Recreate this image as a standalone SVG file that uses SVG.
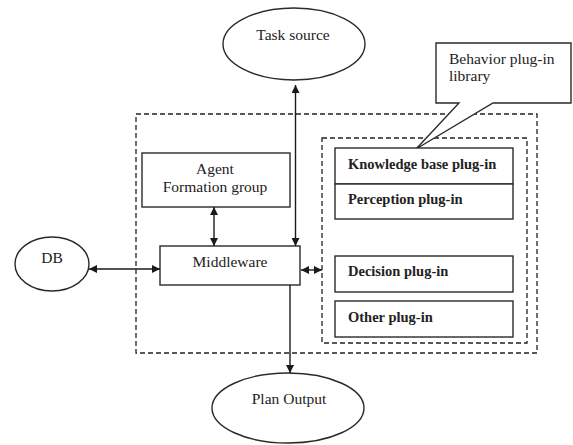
<svg xmlns="http://www.w3.org/2000/svg" width="573" height="445" viewBox="0 0 573 445">
<style>
.s{fill:#fff;stroke:#2a2a2a;stroke-width:1.4}
.d{fill:none;stroke:#222;stroke-width:1.3;stroke-dasharray:5 3}
.t{font-family:"Liberation Serif",serif;font-size:15.5px;fill:#222}
.b{font-family:"Liberation Serif",serif;font-size:14.5px;font-weight:bold;fill:#222}
.c{stroke:#1a1a1a;stroke-width:1.4;fill:none}
</style>
<defs>
<marker id="a" viewBox="0 0 10 10" refX="10" refY="5" markerWidth="8" markerHeight="8" orient="auto-start-reverse" markerUnits="userSpaceOnUse">
<path d="M0,0L10,5L0,10z" fill="#1a1a1a"/>
</marker>
</defs>
<rect width="573" height="445" fill="#fff"/>
<rect class="d" x="136" y="114" width="401" height="239"/>
<rect class="d" x="322" y="138" width="205" height="205"/>
<g id="task"><ellipse class="s" cx="294" cy="44" rx="71" ry="36"/><text class="t" x="293" y="40" text-anchor="middle">Task source</text></g>
<g id="callout"><path class="s" d="M436,43H571V103H493L416,149L459,103H436Z"/><text class="t" x="449" y="64">Behavior plug-in</text><text class="t" x="449" y="81">library</text></g>
<g id="agent"><rect class="s" x="142" y="153" width="148" height="54"/><text class="t" x="215" y="174" text-anchor="middle">Agent</text><text class="t" x="215" y="192" text-anchor="middle">Formation group</text></g>
<g id="middleware"><rect class="s" x="160" y="246" width="140" height="39"/><text class="t" x="230" y="267" text-anchor="middle">Middleware</text></g>
<g id="db"><ellipse class="s" cx="52" cy="264" rx="37" ry="27"/><text class="t" x="52" y="263" text-anchor="middle">DB</text></g>
<g id="plan"><ellipse class="s" cx="288" cy="408" rx="76" ry="35"/><text class="t" x="289" y="404" text-anchor="middle">Plan Output</text></g>
<g id="knowledge"><rect class="s" x="335" y="148" width="178" height="36"/><text class="b" x="348" y="169">Knowledge base plug-in</text></g>
<g id="perception"><rect class="s" x="335" y="184" width="178" height="35"/><text class="b" x="348" y="204">Perception plug-in</text></g>
<g id="decision"><rect class="s" x="335" y="256" width="178" height="36"/><text class="b" x="348" y="276">Decision plug-in</text></g>
<g id="other"><rect class="s" x="335" y="301" width="178" height="36"/><text class="b" x="348" y="322">Other plug-in</text></g>
<g id="connectors">
<line class="c" x1="295.5" y1="85" x2="295.5" y2="246" marker-start="url(#a)" marker-end="url(#a)"/>
<line class="c" x1="214" y1="207" x2="214" y2="246" marker-start="url(#a)" marker-end="url(#a)"/>
<line class="c" x1="89" y1="269" x2="160" y2="269" marker-start="url(#a)" marker-end="url(#a)"/>
<line class="c" x1="301" y1="270" x2="322" y2="270" marker-start="url(#a)" marker-end="url(#a)"/>
<line class="c" x1="290" y1="285" x2="290" y2="373" marker-end="url(#a)"/>
</g>
</svg>
